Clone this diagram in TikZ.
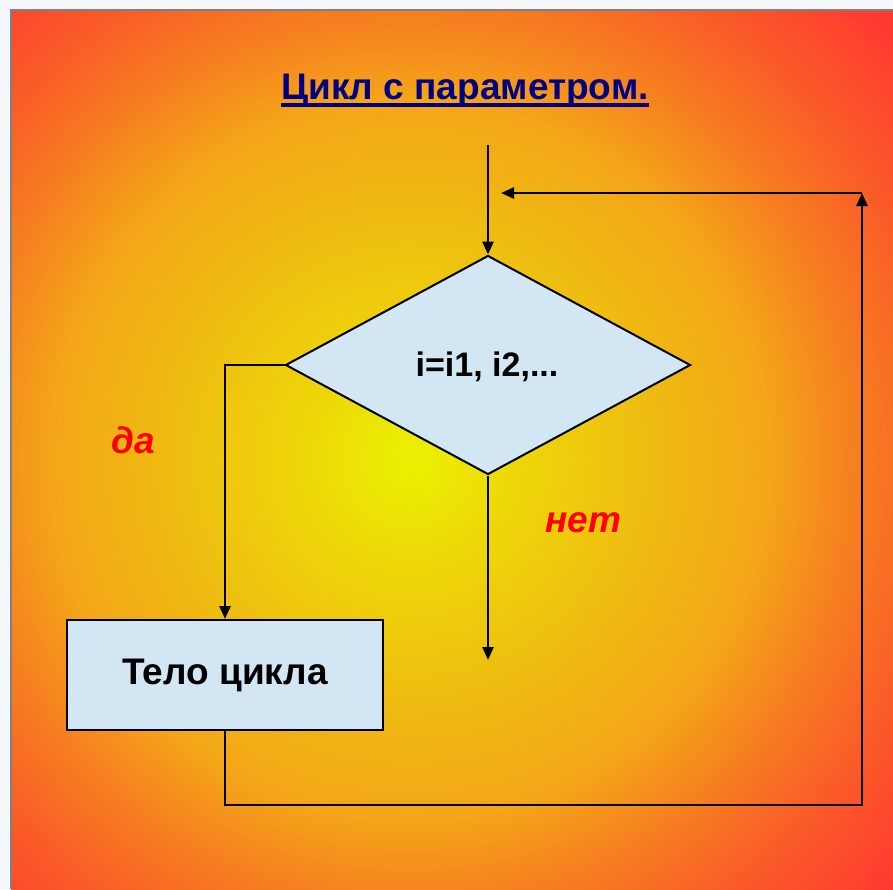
\documentclass[tikz,border=0pt]{standalone}
\usepackage{fontspec}
\setmainfont{Liberation Sans}
\usetikzlibrary{arrows.meta,shapes.geometric}
\definecolor{titleblue}{HTML}{000080}
\definecolor{boxfill}{HTML}{D2E6F4}
\definecolor{labred}{HTML}{FF0000}
\definecolor{pagebg}{HTML}{F4F7FA}
\definecolor{s0}{HTML}{EAF200}
\definecolor{s1}{HTML}{EED808}
\definecolor{s2}{HTML}{EEC010}
\definecolor{s3}{HTML}{F4A518}
\definecolor{s4}{HTML}{F6841F}
\definecolor{s5}{HTML}{FA5C28}
\definecolor{s6}{HTML}{FF3A30}
\pgfdeclareradialshading{bgshade}{\pgfpoint{0bp}{0bp}}{%
  color(0bp)=(s0); color(100bp)=(s1); color(220bp)=(s2); color(360bp)=(s3); color(430bp)=(s4); color(530bp)=(s5); color(640bp)=(s6); color(700bp)=(s6)}
\tikzset{
  shape line/.style={draw=black, line width=2pt, fill=boxfill},
  conn/.style={draw=black, line width=2.6pt},
  arr/.style={conn, -{Triangle[length=13pt,width=11pt]}},
  lab/.style={text=labred, font=\fontsize{37}{40}\selectfont\bfseries\itshape},
  inner/.style={font=\fontsize{34}{38}\selectfont\bfseries}
}
\begin{document}
\begin{tikzpicture}[x=1pt,y=-1pt]
\useasboundingbox (0,0) rectangle (893,889);
\fill[pagebg] (0,0) rectangle (893,889);
\begin{scope}
  \clip (11,10) rectangle (893,889);
  \node[inner sep=0pt, outer sep=0pt] (glow) at (410,460) {\pgfuseshading{bgshade}};
\end{scope}
\draw[gray, line width=2.5pt] (11,889) -- (11,10) -- (893,10);
% title
\node[inner sep=0pt, anchor=base, text=titleblue, font=\fontsize{37}{40}\selectfont\bfseries] (title) at (465,99) {Цикл с параметром.};
\draw[titleblue, line width=3.2pt] ([yshift=-6pt]title.base west) -- ([yshift=-6pt]title.base east);
% diamond
\node[shape line, diamond, minimum width=405pt, minimum height=219pt, inner sep=0pt, aspect=1.85] (cond) at (488,365) {};
\node[inner, inner sep=0pt] (condtxt) at (487,367) {i=i1, i2,...};
% body box
\node[shape line, rectangle, minimum width=316pt, minimum height=110pt, inner sep=0pt, font=\fontsize{37}{40}\selectfont\bfseries] (body) at (225,675) {Тело цикла};
% coordinates
\coordinate (start) at (488,145);
\coordinate (lcorner) at (225,365);
\coordinate (exitend) at (488,660);
\coordinate (bcorner) at (862,805);
\coordinate (tcorner) at (862,193);
\coordinate (retend) at (501,193);
% connectors
\draw[arr] (start) -- (cond.north);
\draw[arr] (cond.west) -- (lcorner) -- (body.north);
\draw[arr] (cond.south) -- (exitend);
\draw[arr] (body.south) |- (bcorner) -- (tcorner);
\draw[arr] (tcorner) -- (retend);
% labels
\node[lab] (da) at (133,440) {да};
\node[lab] (net) at (583,523) {нет};
\end{tikzpicture}
\end{document}
